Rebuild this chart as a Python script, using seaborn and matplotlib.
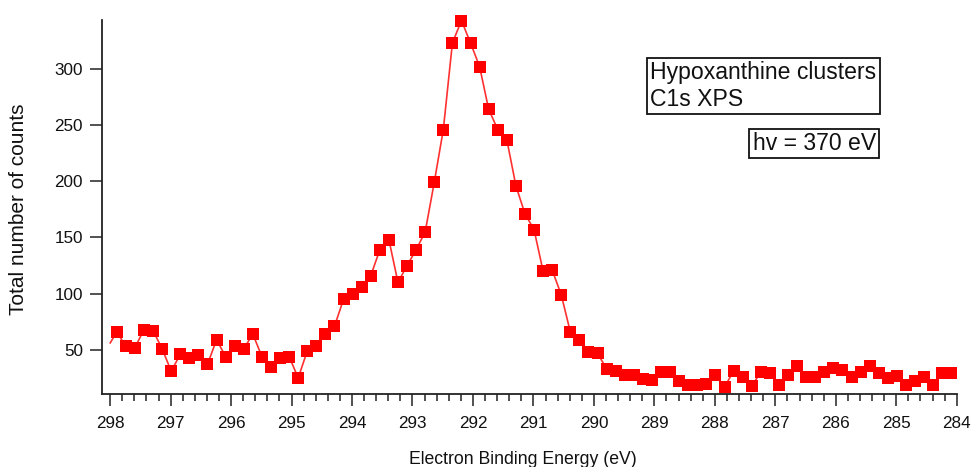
import matplotlib
matplotlib.use('Agg')
import matplotlib.pyplot as plt
import seaborn as sns
import pandas as pd
from matplotlib.ticker import MultipleLocator

# ==========================================
# Dados lidos do espectro C1s (hipoxantina)
# ==========================================
energia = [
    298.00, 297.89, 297.74, 297.59, 297.44, 297.29, 297.14, 296.99, 296.84, 296.69,
    296.54, 296.39, 296.24, 296.09, 295.94, 295.79, 295.64, 295.49, 295.34, 295.19,
    295.04, 294.89, 294.74, 294.59, 294.44, 294.29, 294.14, 293.99, 293.84, 293.69,
    293.54, 293.39, 293.24, 293.09, 292.94, 292.79, 292.64, 292.49, 292.34, 292.19,
    292.04, 291.89, 291.74, 291.59, 291.44, 291.29, 291.14, 290.99, 290.84, 290.69,
    290.54, 290.39, 290.24, 290.09, 289.94, 289.79, 289.64, 289.49, 289.34, 289.19,
    289.04, 288.89, 288.74, 288.59, 288.44, 288.29, 288.14, 287.99, 287.84, 287.69,
    287.54, 287.39, 287.24, 287.09, 286.94, 286.79, 286.64, 286.49, 286.34, 286.19,
    286.04, 285.89, 285.74, 285.59, 285.44, 285.29, 285.14, 284.99, 284.84, 284.69,
    284.54, 284.39, 284.24, 284.09,
]
contagens = [
    56, 66, 53, 52, 68, 67, 51, 31, 46, 43,
    45, 37, 59, 44, 53, 51, 64, 44, 35, 43,
    44, 25, 49, 53, 64, 71, 95, 100, 106, 116,
    139, 148, 110, 125, 139, 155, 199, 246, 323, 343,
    323, 302, 264, 246, 237, 196, 171, 157, 120, 121,
    99, 66, 59, 48, 47, 33, 31, 28, 28, 24,
    23, 30, 30, 22, 19, 19, 20, 28, 17, 31,
    26, 18, 30, 29, 19, 28, 36, 26, 26, 30,
    34, 32, 26, 30, 36, 29, 25, 27, 19, 22,
    26, 19, 29, 29,
]
df = pd.DataFrame({'Energia': energia, 'Contagens': contagens})

ticks_y = [50, 100, 150, 200, 250, 300]
ticks_x = list(range(284, 299))

# ==========================================
# Gráfico
# ==========================================
sns.set_style('ticks')
plt.rcParams['font.family'] = ['Liberation Sans', 'DejaVu Sans']

fig = plt.figure(figsize=(9.71, 4.67), dpi=100)
ax = fig.add_axes([0.1047, 0.1563, 0.8806, 0.8007])

sns.lineplot(
    data=df, x='Energia', y='Contagens', ax=ax, sort=False,
    color='#ff3030', linewidth=1.2,
    marker='s', markersize=8.3, markerfacecolor='#ff0000',
    markeredgecolor='#ff0000', markeredgewidth=0,
    markevery=slice(1, None), clip_on=False,
)

ax.set_xlim(298.14, 284.0)
ax.set_ylim(10.7, 343.4)
ax.set_xticks(ticks_x)
ax.set_xticklabels([str(t) for t in ticks_x])
ax.xaxis.set_minor_locator(MultipleLocator(0.2))
ax.set_yticks(ticks_y)

for s in ['top', 'right']:
    ax.spines[s].set_visible(False)
for s in ['left', 'bottom']:
    ax.spines[s].set_linewidth(1.3)
    ax.spines[s].set_color('#222222')

ax.tick_params(axis='both', which='major', direction='out', length=8.5, width=1.1,
               colors='#222222', labelsize=12.3, labelcolor='#111111')
ax.tick_params(axis='x', which='major', pad=7)
ax.tick_params(axis='y', which='major', pad=5)
ax.tick_params(axis='x', which='minor', direction='out', length=5, width=1.1, colors='#222222')

ax.set_xlabel('Electron Binding Energy (eV)', fontsize=12.7, color='#111111')
ax.set_ylabel('Total number of counts', fontsize=15, color='#111111')
ax.xaxis.set_label_coords(0.4928, -0.152)
ax.yaxis.set_label_coords(-0.086, 0.495)

# Caixas de texto
fig.text(650 / 971, 1 - 61 / 467, 'Hypoxanthine clusters\nC1s XPS', ha='left', va='top',
         fontsize=16.6, color='#111111', linespacing=1.2,
         bbox=dict(boxstyle='square,pad=0.15', fc='white', ec='#111111', lw=1.3))
fig.text(876 / 971, 1 - 132 / 467, 'hv = 370 eV', ha='right', va='top',
         fontsize=16.6, color='#111111',
         bbox=dict(boxstyle='square,pad=0.15', fc='white', ec='#111111', lw=1.3))

fig.savefig('out.png', dpi=100)
